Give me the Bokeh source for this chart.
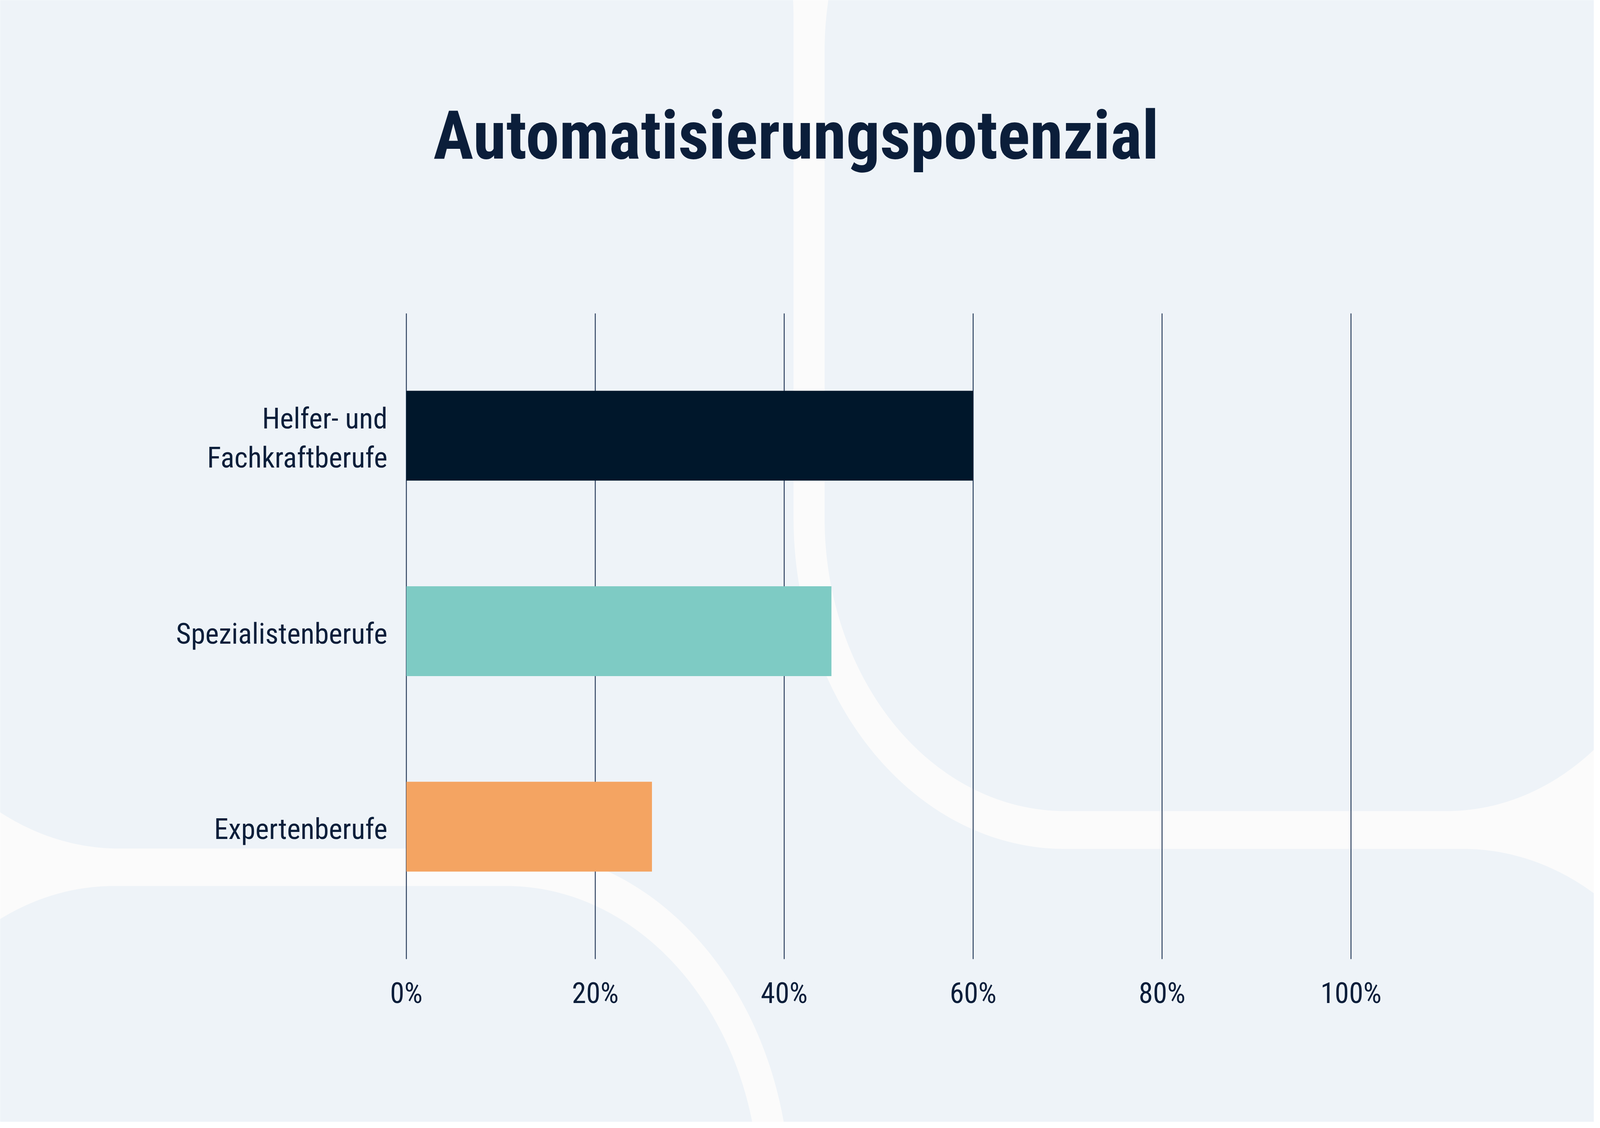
import numpy as np
from bokeh.plotting import figure
from bokeh.models import Range1d
from bokeh.core.properties import value
from bokeh.embed import file_html
from bokeh.resources import INLINE

# ---------------- data ----------------
title_text = "Automatisierungspotenzial"
categories = ["Helfer- und\nFachkraftberufe", "Spezialistenberufe", "Expertenberufe"]
values = [60, 45, 26]
bar_colors = ["#00172b", "#7ecbc4", "#f4a462"]
tick_values = [0, 20, 40, 60, 80, 100]
tick_labels = ["0%", "20%", "40%", "60%", "80%", "100%"]

# ---------------- layout ----------------
# the browser viewport is 4096 x 2888 css px; the design (5000 x 2888) is fitted to it
SX, SY = 4096 / 5000, 1.0
OFF = 8
W, H = 4096 - 2 * OFF, 2888 - 2 * OFF

def fx(r):
    return np.asarray(r, float) * SX - OFF

def fy(r):
    return np.asarray(r, float) * SY - OFF

X0 = float(fx(1279))          # figure px of 0 %
PPP = 29.52 * SX              # px per percent
Y0 = float(fy(1123))          # figure px of first category
PPC = 500.5 * SY              # px per category step

def dx(r):
    return (fx(r) - X0) / PPP

def dy(r):
    return (fy(r) - Y0) / PPC

TEXT = "#0b1e3a"
BG = "#eef3f8"
GAP = "#fbfbfb"
FONT = "'Roboto Condensed', 'Noto Sans Condensed', 'DejaVu Sans Condensed', sans-serif"

p = figure(width=W, height=H, output_backend="svg", toolbar_location=None,
           x_axis_location=None, y_axis_location=None,
           x_range=Range1d((0 - X0) / PPP, (W - X0) / PPP),
           y_range=Range1d(start=(H - Y0) / PPC, end=(0 - Y0) / PPC),
           min_border=0, outline_line_color=None)
p.background_fill_color = GAP
p.border_fill_color = GAP
p.grid.visible = False

# ---------------- decorative background shapes (reference px) ----------------
def arc(cx, cy, r, a0, a1, n=90):
    t = np.radians(np.linspace(a0, a1, n))
    return list(cx + r * np.cos(t)), list(cy + r * np.sin(t))

def rrect(x0, y0, x1, y1, r):
    xs, ys = [], []
    for (cx, cy, a0, a1) in [(x0 + r, y0 + r, 180, 270), (x1 - r, y0 + r, 270, 360),
                             (x1 - r, y1 - r, 0, 90), (x0 + r, y1 - r, 90, 180)]:
        ax, ay = arc(cx, cy, r, a0, a1)
        xs += ax; ys += ay
    return xs, ys

shapes = []
shapes.append(rrect(2586, -610, 5281, 2084, 750))      # top right
shapes.append(rrect(-425, 2276, 2382, 3900, 790))      # bottom left
mx, my = [-409], [-734]                                # middle region
ax, ay = arc(1699, 56, 790, -90, 0); mx += ax; my += ay
mx += [2489]; my += [1334]
ax, ay = arc(3336, 1334, 847, 180, 90); mx += ax; my += ay
mx += [4582]; my += [2181]
ax, ay = arc(4582, 2971, 790, -90, 0); mx += ax; my += ay
mx += [5372, 2478]; my += [3900, 3900]
ax, ay = arc(1592, 3066, 886, 0, -90); mx += ax; my += ay
mx += [381]; my += [2180]
ax, ay = arc(381, 1390, 790, 90, 180); mx += ax; my += ay
shapes.append((mx, my))

p.patches(xs=[list(dx(s[0])) for s in shapes], ys=[list(dy(s[1])) for s in shapes],
          fill_color=BG, line_color=None)

# ---------------- chart ----------------
idx = list(range(len(categories)))
n = len(tick_values)
p.segment(x0=tick_values, x1=tick_values, y0=[float(dy(810))] * n, y1=[float(dy(2463))] * n,
          line_color="#2e4260", line_width=2.5)

p.hbar(y=idx, left=0, right=values, height=230 / 500.5, fill_color=bar_colors, line_color=None)

p.text(x=tick_values, y=[float(dy(2550))] * n, text=tick_labels,
       text_font=value(FONT), text_font_size=value("74px"), text_color=TEXT,
       text_align="center", text_baseline="alphabetic")

p.text(x=[float(dx(1220))] * len(categories), y=[i + 0.012 for i in idx], text=categories,
       text_font=value(FONT), text_font_size=value("74px"), text_color=TEXT,
       text_align="right", text_baseline="middle", text_line_height=1.14)

p.text(x=[float(dx(2497))], y=[float(dy(354))], text=[title_text],
       text_font=value(FONT), text_font_style="bold", text_font_size=value("172px"),
       text_color=TEXT, text_align="center", text_baseline="alphabetic")

open("out.html", "w").write(file_html(p, INLINE))
